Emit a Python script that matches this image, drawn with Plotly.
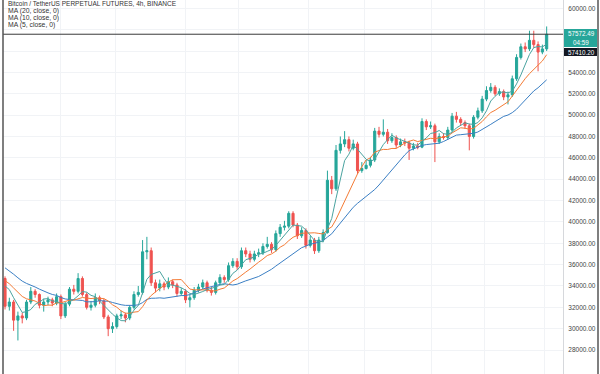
import plotly.graph_objects as go
import pandas as pd

# ---- data (4h candles) ----
prior_closes = [37800, 37500, 37900, 37200, 36800, 36500, 36900, 36200, 36400, 35800,
                35400, 34800, 35200, 34900, 34700, 34200, 34600, 34400, 34700]

opens = [34700, 32100, 32500, 30800, 31200, 31000, 32500, 33500, 33200, 32200,
         32500, 32700, 32400, 33000, 31200, 32300, 33700, 33500, 34700, 33200,
         32000, 32200, 32900, 32600, 31100, 30000, 30200, 31200, 31300, 31000,
         32000, 33200, 33400, 37200, 37300, 34300, 33800, 34200, 33900, 34400,
         34100, 33300, 33500, 32700, 32900, 33600, 33900, 34300, 33600, 33400,
         34300, 34800, 34600, 35900, 36300, 35800, 37300, 37000, 36500, 37000,
         37100, 37700, 37900, 37400, 38900, 39500, 39600, 40800, 39700, 38700,
         39200, 37800, 38300, 37300, 38300, 39000, 43900, 43100, 46700, 47300,
         47700, 46900, 47300, 44800, 45000, 45300, 45800, 48500, 48200, 48400,
         47600, 47900, 47200, 47500, 47400, 46900, 47100, 47000, 49400, 48900,
         49000, 47500, 48000, 47900, 48600, 49900, 49600, 49300, 49000, 48000,
         49800, 50400, 51500, 52300, 52600, 52000, 52200, 51700, 51900, 53400,
         55400, 56400, 56200, 57000, 56600, 55900, 56200]
closes = [32100, 32500, 30800, 31200, 31000, 32500, 33500, 33200, 32200, 32500,
          32700, 32400, 33000, 31200, 32300, 33700, 33500, 34700, 33200, 32000,
          32200, 32900, 32600, 31100, 30000, 30200, 31200, 31300, 31000, 32000,
          33200, 33400, 37200, 37300, 34300, 33800, 34200, 33900, 34400, 34100,
          33300, 33500, 32700, 32900, 33600, 33900, 34300, 33600, 33400, 34300,
          34800, 34600, 35900, 36300, 35800, 37300, 37000, 36500, 37000, 37100,
          37700, 37900, 37400, 38900, 39500, 39600, 40800, 39700, 38700, 39200,
          37800, 38300, 37300, 38300, 39000, 43900, 43100, 46700, 47300, 47700,
          46900, 47300, 44800, 45000, 45300, 45800, 48500, 48200, 48400, 47600,
          47900, 47200, 47500, 47400, 46900, 47100, 47000, 49400, 48900, 49000,
          47500, 48000, 47900, 48600, 49900, 49600, 49300, 49000, 48000, 49800,
          50400, 51500, 52300, 52600, 52000, 52200, 51700, 51900, 53400, 55400,
          56400, 56200, 57000, 56600, 55900, 56200, 57572.49]
highs = [34900, 32900, 32700, 31600, 31500, 32700, 33900, 33700, 33300, 32800,
         33000, 32900, 33300, 33200, 32500, 33900, 34100, 35200, 34900, 33400,
         32600, 33300, 33100, 32800, 31300, 30600, 31400, 31700, 31500, 32200,
         33500, 34000, 38300, 38600, 37600, 34600, 34600, 34400, 34800, 34600,
         34300, 33800, 33700, 33200, 33900, 34200, 34600, 34500, 33900, 34500,
         35100, 35000, 36200, 36600, 36600, 37600, 37600, 37300, 37300, 37500,
         38000, 38600, 38100, 39200, 39800, 40100, 41000, 41000, 39900, 39500,
         39400, 38700, 38500, 38600, 39300, 44800, 44300, 47200, 48000, 48500,
         48000, 47700, 47500, 45600, 45800, 46100, 48800, 48900, 49600, 48700,
         48300, 48100, 47800, 47800, 47600, 47400, 47400, 49700, 49600, 49400,
         49200, 48300, 48300, 48900, 50200, 50300, 49800, 49500, 49200, 50000,
         50700, 51800, 52700, 53000, 52800, 52500, 52400, 52200, 53700, 55700,
         56700, 56800, 57900, 57900, 56900, 56600, 58300]
lows = [31800, 31700, 29800, 28900, 30500, 30800, 32300, 32900, 31900, 31600,
        32200, 32100, 32200, 30900, 31000, 32100, 33200, 33300, 33000, 31800,
        31700, 32000, 32300, 30900, 29300, 29600, 30000, 30900, 30600, 30800,
        31800, 33000, 33200, 36500, 34000, 33400, 33500, 33600, 33700, 33800,
        33000, 33100, 32400, 32000, 32700, 33400, 33700, 33400, 33100, 33200,
        34100, 34300, 34400, 35700, 35500, 35600, 36700, 36200, 36300, 36700,
        36900, 37500, 37100, 37200, 38600, 39200, 39400, 39500, 38400, 38500,
        37500, 37600, 37000, 37100, 38100, 38900, 42600, 42900, 46400, 47000,
        46600, 46700, 44500, 44600, 44900, 45100, 45600, 47900, 48000, 47300,
        47400, 46900, 47000, 47100, 45800, 46700, 46800, 46900, 48600, 48700,
        45600, 47300, 47700, 47700, 48400, 49300, 49000, 48700, 46700, 47800,
        49600, 50200, 51300, 52100, 51800, 51800, 51400, 51000, 51700, 53200,
        55200, 55900, 56000, 56300, 54100, 55700, 56000]

ma_periods = [20, 10, 5]
ma_colors = ["#3b7fc4", "#f47b35", "#4aa3a0"]
price_ticks = list(range(28000, 62000, 2000))
hidden_ticks = [56000, 58000]   # covered by the price labels in the original
title_text = "Bitcoin / TetherUS PERPETUAL FUTURES, 4h, BINANCE"
last_price = 57572.49
countdown = "04:59"
second_label = 57410.20
day_lines = [12.8, 25.6, 41.9, 54.2, 70.5, 83.7, 99.3, 111.6, 125.6]

# ---- figure ----
idx = list(range(len(closes)))
all_closes = pd.Series(prior_closes + closes)
n_prior = len(prior_closes)

fig = go.Figure()
fig.add_trace(go.Candlestick(
    x=idx, open=opens, high=highs, low=lows, close=closes,
    increasing=dict(line=dict(color="#26a69a", width=1), fillcolor="#26a69a"),
    decreasing=dict(line=dict(color="#ef5350", width=1), fillcolor="#ef5350"),
    showlegend=False, hoverinfo="skip"))

for p, col in zip(ma_periods, ma_colors):
    ma = all_closes.rolling(p).mean().iloc[n_prior:].tolist()
    fig.add_trace(go.Scatter(x=idx, y=ma, mode="lines",
                             line=dict(color=col, width=1),
                             showlegend=False, hoverinfo="skip"))

W, H = 600, 374
L, R = 3, 37
fig.update_layout(
    width=W, height=H,
    margin=dict(l=L, r=R, t=0, b=0),
    paper_bgcolor="white", plot_bgcolor="white",
    font=dict(family="Liberation Sans, Arial, sans-serif", color="#333"),
    xaxis=dict(range=[-0.47, 129.8], rangeslider=dict(visible=False),
               tickvals=day_lines, showticklabels=False, ticks="",
               showgrid=True, gridcolor="#f1f3f6", gridwidth=1, automargin=False,
               zeroline=False, showline=False, fixedrange=True),
    yaxis=dict(range=[25758, 60777], side="right", automargin=False,
               tickvals=price_ticks,
               ticktext=["" if v in hidden_ticks else f"{v:.2f}" for v in price_ticks],
               tickfont=dict(size=6.5, color="#444"),
               ticks="", ticklabelstandoff=3,
               showgrid=True, gridcolor="#f1f3f6", gridwidth=1,
               zeroline=False, showline=True, linecolor="#d6d8dc", linewidth=1),
)

# last price line
fig.add_shape(type="line", xref="paper", yref="y", x0=0, x1=1,
              y0=last_price, y1=last_price, line=dict(color="#3a3a3a", width=1))
# borders
fig.add_shape(type="line", xref="paper", yref="paper", x0=0, x1=0, y0=0, y1=1,
              line=dict(color="#555", width=1.5))
xr = (598 - L) / (W - L - R)
fig.add_shape(type="line", xref="paper", yref="paper", x0=xr, x1=xr, y0=0, y1=1,
              line=dict(color="#555", width=1.5))

# price labels on axis
def py(pix):
    return 1 - pix / H

def px(pix):
    return (pix - L) / (W - L - R)

fig.add_shape(type="rect", xref="paper", yref="paper",
              x0=px(564), x1=px(597), y0=py(47), y1=py(29),
              fillcolor="#26a69a", line=dict(width=0))
fig.add_shape(type="rect", xref="paper", yref="paper",
              x0=px(564), x1=px(597), y0=py(56), y1=py(48),
              fillcolor="#131722", line=dict(width=0))
fig.add_annotation(xref="paper", yref="paper", x=px(566), y=py(33.5), xanchor="left",
                   yanchor="middle", text=f"{last_price:.2f}", showarrow=False,
                   font=dict(size=6.3, color="white"))
fig.add_annotation(xref="paper", yref="paper", x=px(571), y=py(42), xanchor="left",
                   yanchor="middle", text=countdown, showarrow=False,
                   font=dict(size=6.3, color="white"))
fig.add_annotation(xref="paper", yref="paper", x=px(566), y=py(52), xanchor="left",
                   yanchor="middle", text=f"{second_label:.2f}", showarrow=False,
                   font=dict(size=6.3, color="white"))

# legend texts
fig.add_annotation(xref="paper", yref="paper", x=px(6), y=py(3.2), xanchor="left",
                   yanchor="middle", text=title_text, showarrow=False,
                   font=dict(size=6.5, color="#333"))
for k, p in enumerate(ma_periods):
    fig.add_annotation(xref="paper", yref="paper", x=px(6), y=py(10.5 + 7.5 * k),
                       xanchor="left", yanchor="middle",
                       text=f"MA ({p}, close, 0)", showarrow=False,
                       font=dict(size=6.8, color="#333"))

fig.write_html("out.html", config={"displayModeBar": False},
               post_script="document.body.style.margin='0';document.body.style.overflow='hidden';")
